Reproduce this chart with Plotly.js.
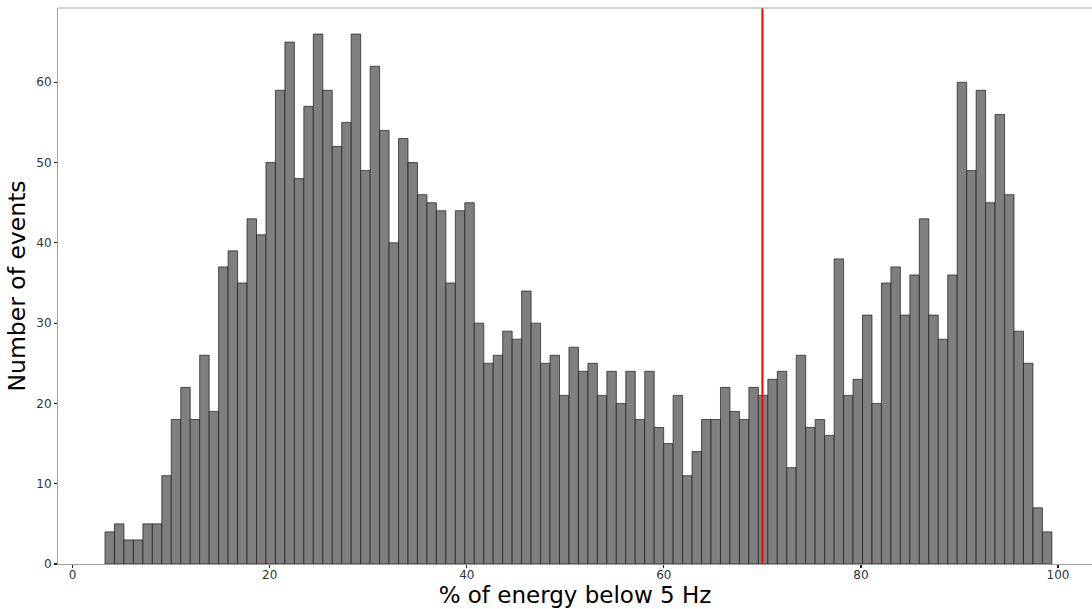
<!DOCTYPE html>
<html>
<head>
<meta charset="utf-8">
<script src="https://cdn.plot.ly/plotly-3.0.1.min.js"></script>
<style>html,body{margin:0;padding:0;background:#fff;}#chart{width:1092px;height:609px;}</style>
</head>
<body>
<div id="chart"></div>
<script>
// Histogram counts (100 bins)
const counts = [
  4,5,3,3,5,5,11,18,22,18,
  26,19,37,39,35,43,41,50,59,65,
  48,57,66,59,52,55,66,49,62,54,
  40,53,50,46,45,44,35,44,45,30,
  25,26,29,28,34,30,25,26,21,27,
  24,25,21,24,20,24,18,24,17,15,
  21,11,14,18,18,22,19,18,22,21,
  23,24,12,26,17,18,16,38,21,23,
  31,20,35,37,31,36,43,31,28,36,
  60,49,59,45,56,46,29,25,7,4
];
const binStart = 3.28;     // left edge of first bin
const binWidth = 0.961;    // bin width
const thresholdX = [70];   // red vertical line
const xTicks = [0, 20, 40, 60, 80, 100];
const yTicks = [0, 10, 20, 30, 40, 50, 60];

const centers = counts.map((_, i) => binStart + binWidth * (i + 0.5));

const traces = [
  {
    type: 'bar',
    x: centers,
    y: counts,
    width: binWidth,
    marker: {color: '#7f7f7f', line: {color: '#1a1a1a', width: 0.7}},
    hoverinfo: 'x+y'
  },
  {
    type: 'scatter',
    mode: 'lines',
    x: [thresholdX[0], thresholdX[0]],
    y: [0, 69.25],
    line: {color: '#ff0000', width: 2},
    hoverinfo: 'skip'
  }
];

const layout = {
  width: 1092,
  height: 609,
  margin: {l: 58, r: 0, t: 8, b: 45, pad: 0},
  paper_bgcolor: '#ffffff',
  plot_bgcolor: '#ffffff',
  showlegend: false,
  bargap: 0,
  font: {family: 'DejaVu Sans', color: '#333333'},
  shapes: [
    {type: 'line', xref: 'paper', yref: 'paper', x0: 0, x1: 1, y0: 1, y1: 1,
     line: {color: '#a0a0a0', width: 1}}
  ],
  xaxis: {
    range: [-1.49, 103.45],
    tickvals: xTicks,
    ticktext: xTicks.map(String),
    ticks: 'outside',
    ticklen: 3,
    tickwidth: 1.2,
    tickcolor: '#222222',
    ticklabelstandoff: -3,
    tickfont: {size: 12, color: '#333333', family: 'DejaVu Sans'},
    showgrid: false,
    zeroline: false,
    showline: true,
    linecolor: '#a0a0a0',
    linewidth: 1,
    automargin: false,
    title: {text: '% of energy below 5 Hz', font: {size: 23, color: '#000000', family: 'DejaVu Sans'}, standoff: 3}
  },
  yaxis: {
    range: [0, 69.25],
    tickvals: yTicks,
    ticktext: yTicks.map(String),
    ticks: 'outside',
    ticklen: 3,
    tickwidth: 1.2,
    tickcolor: '#222222',
    tickfont: {size: 12, color: '#333333', family: 'DejaVu Sans'},
    showgrid: false,
    zeroline: false,
    showline: true,
    linecolor: '#a0a0a0',
    linewidth: 1,
    automargin: false,
    title: {text: 'Number of events', font: {size: 23.5, color: '#000000', family: 'DejaVu Sans'}, standoff: 4}
  }
};

Plotly.newPlot('chart', traces, layout, {displayModeBar: false, staticPlot: true});
</script>
</body>
</html>
